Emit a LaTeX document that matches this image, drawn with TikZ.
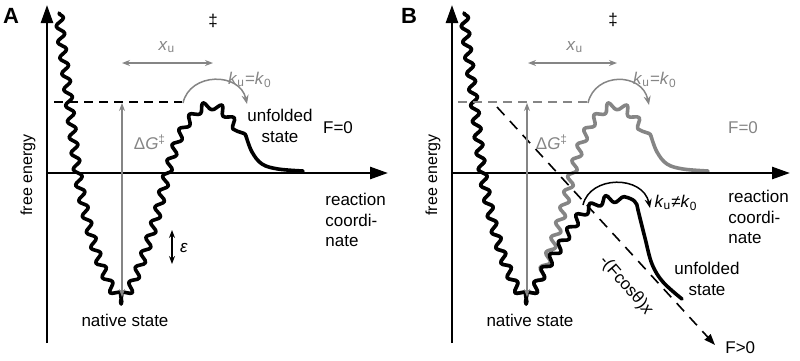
\documentclass[tikz,border=0pt]{standalone}
\usepackage{fontspec}
\setmainfont{Liberation Sans}
\usetikzlibrary{arrows.meta,decorations.pathmorphing}
\definecolor{gry}{gray}{0.52}
\begin{document}
\begin{tikzpicture}[x=0.5pt,y=-0.5pt,
  font=\fontsize{8.5}{10}\selectfont,
  axis/.style={line width=1.3pt, -{Triangle[length=9pt,width=6pt]}},
  curve/.style={line width=1.8pt, line join=round, line cap=round},
  wig/.style={decorate, decoration={snake, segment length=8pt, amplitude=2pt}},
  thinarr/.style={line width=0.65pt, {Stealth[length=4pt,width=3pt]}-{Stealth[length=4pt,width=3pt]}},
  arcarr/.style={line width=0.75pt, -{Stealth[length=4.5pt,width=3.5pt]}},
  hdash/.style={line width=0.75pt, dash pattern=on 4.5pt off 3pt},
  lbl/.style={inner sep=0pt},
  multi/.style={inner sep=0pt, align=left, font=\fontsize{8.5}{10.25}\selectfont}
]
\useasboundingbox (0,0) rectangle (800,360);

% ================= Panel A =================
\coordinate (Ao) at (47,173);
\coordinate (Ay) at (47,5);
\coordinate (Ayb) at (47,343);
\coordinate (Ax) at (388,173);
\draw[axis] (Ayb) -- (Ay);
\draw[axis] (Ao) -- (Ax);

\draw[curve, wig] (59,13) -- (61,35) -- (64,58) -- (67,82) -- (70,108) -- (73,135) -- (76,160) -- (79,180) -- (83,200) -- (88,222) -- (94,243) -- (100,261) -- (107,277) -- (114,289) -- (121,296) -- (128,297) -- (135,290) -- (141,278) -- (147,264) -- (153,248) -- (159,230) -- (165,210) -- (170,190) -- (175,170) -- (181,150) -- (187,133) -- (194,120) -- (202,111) -- (210,106) -- (218,105) -- (226,108) -- (233,114) -- (240,123) -- (246,136);
\draw[curve] plot[smooth, tension=0.6] coordinates {(246,136) (252,152) (262,164) (278,169) (303,171)};

\coordinate (Ad1) at (54,102);
\coordinate (Ad2) at (182,102);
\draw[hdash] (Ad1) -- (Ad2);

\coordinate (Ag1) at (122,103);
\coordinate (Ag2) at (122,297);
\draw[gry, thinarr] (Ag1) -- (Ag2);

\coordinate (Ax1) at (122,63);
\coordinate (Ax2) at (213,63);
\draw[gry, thinarr] (Ax1) -- (Ax2);

\coordinate (Ak1) at (183,103);
\coordinate (Ak2) at (247,104);
\draw[gry, arcarr] (Ak1) .. controls (190,72) and (240,72) .. (Ak2);

\coordinate (Ae1) at (172,230);
\coordinate (Ae2) at (172,264);
\draw[thinarr] (Ae1) -- (Ae2);

\node[lbl, font=\fontsize{11}{12}\selectfont\bfseries] (Alab) at (11,16) {A};
\node[lbl] (Adag) at (213,21) {‡};
\node[lbl, gry] (Axu) at (167,47) {\textit{x}\textsubscript{u}};
\node[lbl, gry] (Aku) at (250,80) {\textit{k}\textsubscript{u}=\textit{k}\textsubscript{0}};
\node[lbl, gry] (AdG) at (150,142) {Δ\textit{G}\textsuperscript{‡}};
\node[multi, align=center] (Aunf) at (280,126) {unfolded\\state};
\node[lbl] (AF) at (338,128) {F=0};
\node[multi, anchor=west] (Arc) at (325,220) {reaction\\coordi-\\nate};
\node[lbl, rotate=90, font=\fontsize{8}{9}\selectfont] (Afe) at (28,175) {free energy};
\node[lbl] (Aeps) at (184,248) {\textit{ε}};
\node[lbl] (Anat) at (125,320) {native state};

% ================= Panel B =================
\begin{scope}[xshift=202.5pt]
\coordinate (Bo) at (47,173);
\coordinate (By) at (47,5);
\coordinate (Byb) at (47,343);
\coordinate (Bx) at (385,173);

% gray F=0 curve
\draw[curve, wig, gry] (59,13) -- (61,35) -- (64,58) -- (67,82) -- (70,108) -- (73,135) -- (76,160) -- (79,180) -- (83,200) -- (88,222) -- (94,243) -- (100,261) -- (107,277) -- (114,289) -- (121,296) -- (128,297) -- (135,290) -- (141,278) -- (147,264) -- (153,248) -- (159,230) -- (165,210) -- (170,190) -- (175,170) -- (181,150) -- (187,133) -- (194,120) -- (202,111) -- (210,106) -- (218,105) -- (226,108) -- (233,114) -- (240,123) -- (246,136);
\draw[curve, gry] plot[smooth, tension=0.6] coordinates {(246,136) (252,152) (262,164) (278,169) (303,171)};

\draw[axis] (Byb) -- (By);
\draw[axis] (Bo) -- (Bx);

% black tilted curve
\draw[curve, wig] (59,13) -- (61,35) -- (64,58) -- (67,82) -- (70,108) -- (73,135) -- (76,160) -- (79,180) -- (83,200) -- (88,222) -- (94,243) -- (100,261) -- (107,277) -- (114,289) -- (121,296) -- (128,297) -- (135,290) -- (141,278) -- (147,266) -- (154,255) -- (162,244) -- (169,233) -- (176,222) -- (183,212) -- (190,205) -- (198,200) -- (206,197) -- (214,196) -- (222,198) -- (228,202) -- (233,210);
\draw[curve] plot[smooth, tension=0.6] coordinates {(233,210) (240,238) (247,264) (258,282) (277,299)};

\coordinate (Bd1) at (53,102);
\coordinate (Bd2) at (183,102);
\draw[gry, hdash] (Bd1) -- (Bd2);

\coordinate (Bt1) at (92,107);
\coordinate (Bt2) at (310,345);
\draw[line width=0.8pt, dash pattern=on 5.5pt off 4pt, -{Triangle[length=5.5pt,width=4pt]}] (Bt1) -- (Bt2);

\coordinate (Bg1) at (122,103);
\coordinate (Bg2) at (122,297);
\draw[gry, thinarr] (Bg1) -- (Bg2);

\coordinate (Bx1) at (123,63);
\coordinate (Bx2) at (212,63);
\draw[gry, thinarr] (Bx1) -- (Bx2);

\coordinate (Bk1) at (183,103);
\coordinate (Bk2) at (244,105);
\draw[gry, arcarr] (Bk1) .. controls (190,72) and (237,72) .. (Bk2);

\coordinate (Bm1) at (178,205);
\coordinate (Bm2) at (245,208);
\draw[arcarr] (Bm1) .. controls (185,175) and (238,175) .. (Bm2);

\node[lbl, font=\fontsize{11}{12}\selectfont\bfseries] (Blab) at (4,16) {B};
\node[lbl] (Bdag) at (208,20) {‡};
\node[lbl, gry] (Bxu) at (170,47) {\textit{x}\textsubscript{u}};
\node[lbl, gry] (Bku) at (250,80) {\textit{k}\textsubscript{u}=\textit{k}\textsubscript{0}};
\node[lbl, gry] (BdG) at (147,142) {Δ\textit{G}\textsuperscript{‡}};
\node[lbl, gry] (BF) at (338,128) {F=0};
\node[multi, anchor=west] (Brc) at (323,217) {reaction\\coordi-\\nate};
\node[lbl, rotate=90, font=\fontsize{8}{9}\selectfont] (Bfe) at (28,175) {free energy};
\node[lbl] (Bku2) at (271,203) {\textit{k}\textsubscript{u}≠\textit{k}\textsubscript{0}};
\node[multi, align=center] (Bunf) at (302,279) {unfolded\\state};
\node[lbl, rotate=-49] (Btilt) at (221,286) {-(Fcosθ)\textit{x}};
\node[lbl, anchor=west] (BF2) at (320,348) {F>0};
\node[lbl] (Bnat) at (125,320) {native state};
\end{scope}
\end{tikzpicture}
\end{document}
